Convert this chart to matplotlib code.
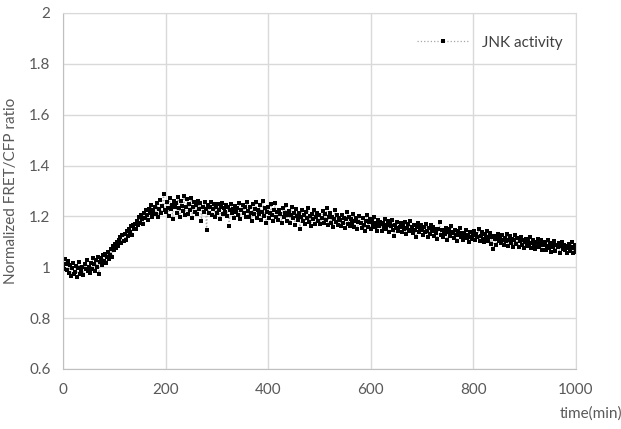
import numpy as np
import matplotlib
matplotlib.use("Agg")
import matplotlib.pyplot as plt

plt.rcParams['font.family'] = ['Lato', 'DejaVu Sans']

# time (min), one reading every 2 minutes
time_min = np.arange(0, 1001, 2)

# normalized FRET/CFP ratio
jnk_activity = [
    1.002, 0.995, 1.031, 1.012, 0.988, 1.024, 0.979, 1.008, 0.967, 0.996,
    1.015, 0.972, 0.983, 1.006, 0.961, 0.998, 1.019, 0.975, 0.987, 1.003,
    0.969, 1.011, 0.992, 1.027, 0.984, 1.002, 0.976, 1.018, 0.995, 1.036,
    1.012, 0.986, 1.028, 1.003, 1.041, 0.972, 1.019, 1.035, 1.008, 1.047,
    1.024, 1.052, 1.018, 1.039, 1.061, 1.033, 1.049, 1.072, 1.041, 1.085,
    1.066, 1.092, 1.075, 1.101, 1.083, 1.108, 1.119, 1.094, 1.128, 1.102,
    1.131, 1.109, 1.142, 1.124, 1.151, 1.137, 1.162, 1.128, 1.168, 1.149,
    1.171, 1.152, 1.183, 1.166, 1.197, 1.175, 1.206, 1.188, 1.169, 1.214,
    1.192, 1.224, 1.207, 1.186, 1.231, 1.213, 1.245, 1.198, 1.226, 1.209,
    1.238, 1.211, 1.252, 1.197, 1.229, 1.266, 1.215, 1.241, 1.288, 1.224,
    1.218, 1.256, 1.235, 1.202, 1.271, 1.229, 1.245, 1.189, 1.262, 1.238,
    1.251, 1.214, 1.276, 1.233, 1.198, 1.259, 1.241, 1.222, 1.281, 1.207,
    1.236, 1.268, 1.211, 1.247, 1.225, 1.274, 1.193, 1.239, 1.258, 1.216,
    1.243, 1.209, 1.262, 1.228, 1.251, 1.182, 1.237, 1.219, 1.255, 1.231,
    1.147, 1.244, 1.213, 1.236, 1.258, 1.205, 1.229, 1.249, 1.198, 1.238,
    1.215, 1.247, 1.226, 1.191, 1.239, 1.254, 1.208, 1.232, 1.218, 1.245,
    1.203, 1.236, 1.161, 1.227, 1.249, 1.212, 1.231, 1.195, 1.242, 1.219,
    1.234, 1.207, 1.251, 1.188, 1.226, 1.243, 1.214, 1.237, 1.199, 1.258,
    1.221, 1.196, 1.239, 1.215, 1.181, 1.247, 1.208, 1.229, 1.256, 1.193,
    1.226, 1.211, 1.244, 1.187, 1.218, 1.259, 1.201, 1.232, 1.174, 1.216,
    1.238, 1.193, 1.212, 1.247, 1.205, 1.181, 1.224, 1.253, 1.196, 1.218,
    1.187, 1.226, 1.209, 1.174, 1.232, 1.198, 1.215, 1.243, 1.183, 1.207,
    1.221, 1.176, 1.204, 1.238, 1.192, 1.213, 1.168, 1.229, 1.201, 1.186,
    1.215, 1.152, 1.198, 1.226, 1.181, 1.207, 1.172, 1.219, 1.194, 1.235,
    1.178, 1.203, 1.164, 1.211, 1.189, 1.226, 1.171, 1.198, 1.215, 1.182,
    1.204, 1.169, 1.193, 1.221, 1.176, 1.208, 1.187, 1.232, 1.165, 1.196,
    1.212, 1.173, 1.198, 1.157, 1.189, 1.224, 1.178, 1.205, 1.168, 1.193,
    1.184, 1.161, 1.207, 1.176, 1.193, 1.153, 1.188, 1.219, 1.171, 1.197,
    1.163, 1.189, 1.176, 1.208, 1.158, 1.182, 1.195, 1.149, 1.179, 1.201,
    1.174, 1.156, 1.192, 1.168, 1.143, 1.183, 1.205, 1.159, 1.177, 1.189,
    1.151, 1.182, 1.167, 1.196, 1.158, 1.173, 1.141, 1.187, 1.164, 1.178,
    1.169, 1.143, 1.176, 1.158, 1.189, 1.149, 1.165, 1.181, 1.137, 1.172,
    1.161, 1.185, 1.148, 1.124, 1.167, 1.153, 1.179, 1.142, 1.158, 1.174,
    1.138, 1.163, 1.152, 1.177, 1.131, 1.156, 1.169, 1.144, 1.182, 1.148,
    1.157, 1.133, 1.168, 1.146, 1.121, 1.159, 1.174, 1.139, 1.152, 1.165,
    1.147, 1.126, 1.158, 1.137, 1.171, 1.143, 1.119, 1.154, 1.132, 1.166,
    1.141, 1.157, 1.124, 1.149, 1.136, 1.113, 1.152, 1.178, 1.128, 1.145,
    1.118, 1.142, 1.131, 1.156, 1.109, 1.137, 1.149, 1.123, 1.161, 1.134,
    1.139, 1.116, 1.147, 1.128, 1.104, 1.141, 1.125, 1.153, 1.119, 1.133,
    1.108, 1.132, 1.124, 1.146, 1.114, 1.127, 1.099, 1.138, 1.121, 1.112,
    1.126, 1.143, 1.109, 1.131, 1.118, 1.152, 1.102, 1.124, 1.137, 1.113,
    1.098, 1.129, 1.116, 1.141, 1.105, 1.121, 1.136, 1.092, 1.118, 1.072,
    1.124, 1.111, 1.087, 1.115, 1.132, 1.103, 1.119, 1.094, 1.127, 1.108,
    1.089, 1.116, 1.102, 1.131, 1.084, 1.109, 1.123, 1.096, 1.112, 1.078,
    1.108, 1.127, 1.093, 1.115, 1.081, 1.102, 1.119, 1.088, 1.106, 1.074,
    1.098, 1.113, 1.082, 1.104, 1.091, 1.121, 1.076, 1.095, 1.109, 1.087,
    1.071, 1.098, 1.084, 1.112, 1.079, 1.094, 1.106, 1.068, 1.089, 1.101,
    1.093, 1.069, 1.085, 1.108, 1.074, 1.091, 1.062, 1.097, 1.081, 1.103,
    1.064, 1.088, 1.079, 1.096, 1.057, 1.083, 1.101, 1.072, 1.089, 1.066,
    1.084, 1.058, 1.077, 1.092, 1.063, 1.081, 1.099, 1.055, 1.074, 1.088,
    1.061,
]

x_ticks = [0, 200, 400, 600, 800, 1000]
y_ticks = [0.6, 0.8, 1.0, 1.2, 1.4, 1.6, 1.8, 2.0]
y_labels = ["0.6", "0.8", "1", "1.2", "1.4", "1.6", "1.8", "2"]

fig = plt.figure(figsize=(6.21, 4.29), dpi=100)
ax = fig.add_axes([0.1014, 0.1399, 0.8261, 0.8298])

ax.plot(time_min, jnk_activity, linestyle=':', color='#a6a6a6', linewidth=0.9,
        marker='s', markersize=3.3, markerfacecolor='black',
        markeredgecolor='black', markeredgewidth=0, label='JNK activity')

ax.set_xlim(0, 1000)
ax.set_ylim(0.6, 2.0)
ax.set_xticks(x_ticks)
ax.set_yticks(y_ticks)
ax.set_yticklabels(y_labels)
ax.grid(True, color='#d9d9d9', linewidth=1.0)
ax.set_axisbelow(True)
ax.tick_params(length=0, labelsize=11, labelcolor='#595959')
ax.tick_params(axis='x', pad=10)
ax.tick_params(axis='y', pad=9)
for side in ['top', 'right']:
    ax.spines[side].set_color('#d9d9d9')
for side in ['left', 'bottom']:
    ax.spines[side].set_color('#bfbfbf')

ax.set_ylabel('Normalized FRET/CFP ratio', fontsize=11, color='#595959',
              labelpad=8)
fig.text(0.951, 0.037, 'time(min)', fontsize=11, color='#595959',
         ha='center', va='center')

ax.legend(loc='upper right', frameon=False, fontsize=11, numpoints=1,
          handlelength=3.4, bbox_to_anchor=(1.0, 0.975),
          labelcolor='#404040')

fig.savefig('out.png', dpi=100)
